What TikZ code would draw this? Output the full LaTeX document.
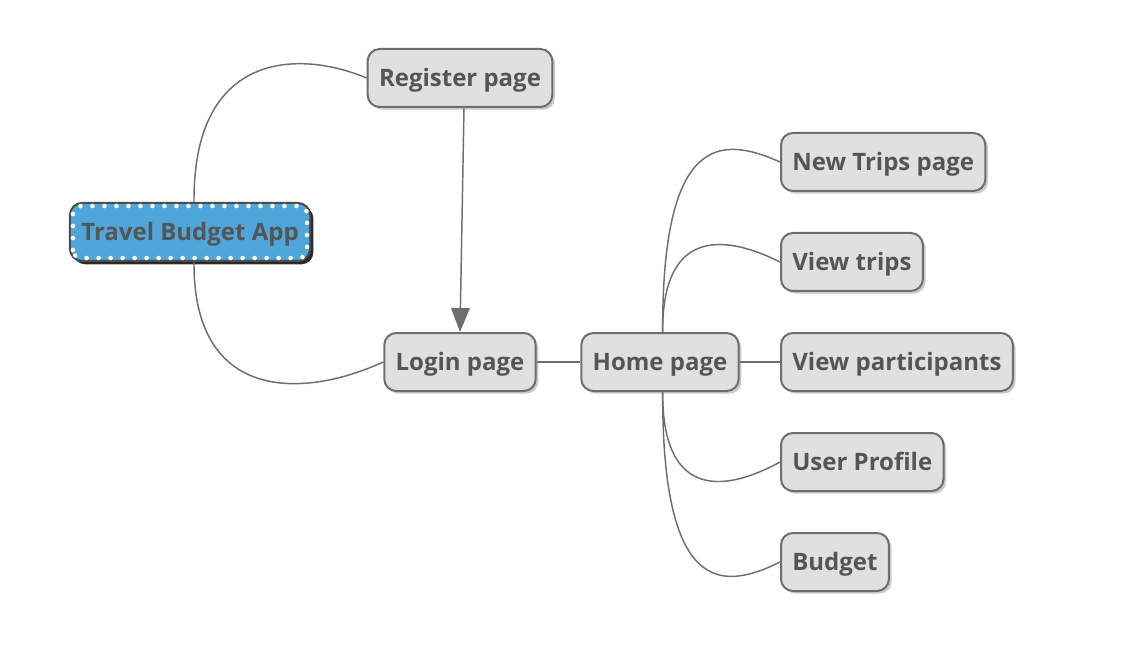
\documentclass[tikz,border=0pt]{standalone}
\usepackage{fontspec}
\setmainfont{Open Sans}
\usetikzlibrary{arrows.meta, shadows}
\definecolor{mygray}{RGB}{224,224,224}
\definecolor{myline}{RGB}{110,110,110}
\definecolor{mytext}{RGB}{85,85,85}
\definecolor{myblue}{RGB}{79,166,219}
\tikzset{
page/.style={draw=myline, line width=1.5pt, fill=mygray, rounded corners=9pt,
  minimum height=43.5pt, inner xsep=8.5pt, text=mytext,
  text height=12.9pt, text depth=0pt,
  font=\fontsize{18}{21}\selectfont\bfseries,
  drop shadow={shadow xshift=2pt, shadow yshift=-2pt, opacity=0.35, fill=black!60}},
root/.style={page, fill=myblue, draw=black!70,
  drop shadow={shadow xshift=2.5pt, shadow yshift=-2.5pt, opacity=0.8, fill=black}},
link/.style={draw=myline, line width=1.1pt},
dots/.style={white, line width=3.4pt, line cap=round, dash pattern=on 0pt off 9pt}
}
\begin{document}
\begin{tikzpicture}[x=0.75pt, y=-0.75pt]
\useasboundingbox (0,0) rectangle (1142,670);

\node[root] (app) at (190,232) {Travel Budget App};
\draw[dots, rounded corners=6pt] ([shift={(4,-4)}]app.south west) rectangle ([shift={(-4,4)}]app.north east);

\node[page] (register) at (460,78) {Register page};
\node[page] (login) at (460,362) {Login page};
\node[page] (home) at (660,362) {Home page};

\node[page, anchor=west] (newtrips) at (780,162) {New Trips page};
\node[page, anchor=west] (viewtrips) at (780,262) {View trips};
\node[page, anchor=west] (participants) at (780,362) {View participants};
\node[page, anchor=west] (profile) at (780,462) {User Profile};
\node[page, anchor=west] (budget) at (780,562) {Budget};

% root to first pages
\draw[link] ([xshift=3]app.north) .. controls (193,50) and (300,50) .. (register.west);
\draw[link] ([xshift=3]app.south) .. controls (193,400) and (300,400) .. (login.west);
\draw[link, -{Triangle[width=14pt, length=18pt]}] ([xshift=3]register.south) -- (login.north);
\draw[link] (login) -- (home);

% home page branches
\draw[link] ([xshift=2]home.north) .. controls (662,135) and (720,135) .. (newtrips.west);
\draw[link] ([xshift=2]home.north) .. controls (662,232) and (720,232) .. (viewtrips.west);
\draw[link] (home.east) -- (participants.west);
\draw[link] ([xshift=2]home.south) .. controls (662,495) and (720,495) .. (profile.west);
\draw[link] ([xshift=2]home.south) .. controls (662,592) and (720,592) .. (budget.west);

\end{tikzpicture}
\end{document}
